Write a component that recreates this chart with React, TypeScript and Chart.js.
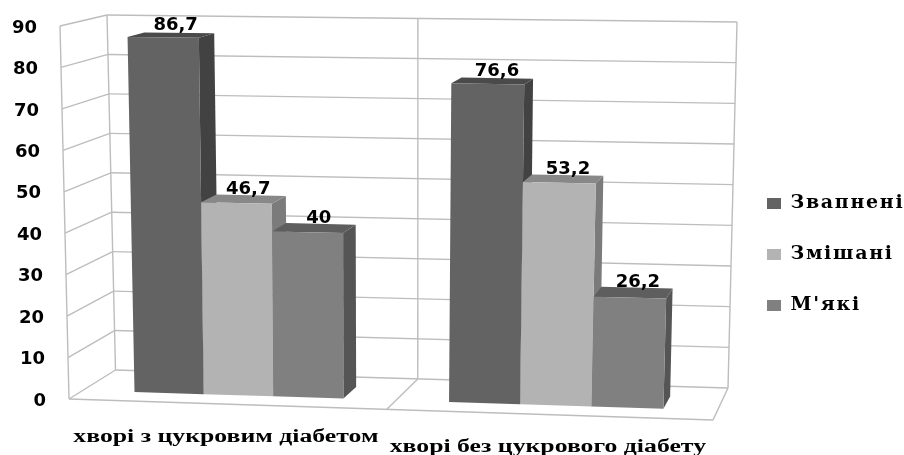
import React, { useEffect, useRef } from "react";
import { Chart, registerables } from "chart.js";

Chart.register(...registerables);

// Chart values
const categories = ["хворі з цукровим діабетом", "хворі без цукрового діабету"];
const seriesNames = ["Звапнені", "Змішані", "М'які"];
const calcified = [86.7, 76.6];
const mixed = [46.7, 53.2];
const soft = [40, 26.2];

// Face shades of each series
const frontColors = ["#636363", "#b3b3b3", "#808080"];
const sideColors = ["#424242", "#7b7b7b", "#555555"];
const topColors = ["#4a4a4a", "#888888", "#5e5e5e"];

type Pt = [number, number];

// Corners of the 3D box on the page: near plane, then far plane
const NEAR = { tl: [60, 26] as Pt, tr: [725, 35] as Pt, bl: [69, 399] as Pt, br: [713, 420] as Pt };
const FAR = { tl: [107, 15] as Pt, tr: [737, 22] as Pt, bl: [115.5, 370] as Pt, br: [728, 388] as Pt };
const BAR_NEAR_DEPTH = 0.3;
const BAR_FAR_DEPTH = 0.68;
const PERSPECTIVE_BOW = 0.026;
const GRID_COLOR = "#bdbdbd";
const SANS_BOLD = '"DejaVu Sans"';
const SERIF_BOLD = '"Liberation Serif"';
const LEGEND_FONT = '"DejaVu Serif"';

const lerp = (a: number, b: number, t: number) => a + (b - a) * t;
const lerpPt = (a: Pt, b: Pt, t: number): Pt => [lerp(a[0], b[0], t), lerp(a[1], b[1], t)];

// Maps axis fractions (u across, v up, z into the page) onto the canvas
function project(u: number, v: number, z: number): Pt {
  const w = u - PERSPECTIVE_BOW * u * (1 - u);
  const plane = (c: typeof NEAR) =>
    lerpPt(lerpPt(c.bl, c.br, w), lerpPt(c.tl, c.tr, w), v);
  return lerpPt(plane(NEAR), plane(FAR), z);
}

function polygon(ctx: CanvasRenderingContext2D, pts: Pt[], fill: string) {
  ctx.beginPath();
  pts.forEach((p, i) => (i ? ctx.lineTo(p[0], p[1]) : ctx.moveTo(p[0], p[1])));
  ctx.closePath();
  ctx.fillStyle = fill;
  ctx.fill();
}

const fractions = (chart: any) => {
  const { left, right, top, bottom } = chart.chartArea;
  return {
    u: (px: number) => (px - left) / (right - left),
    v: (py: number) => (bottom - py) / (bottom - top),
  };
};

const box3d = {
  id: "box3d",
  afterLayout(chart: any) {
    // Legend column sits right of the box, below the vertical centre
    const legend = chart.legend;
    legend.left = 767 - legend.options.labels.padding;
    legend.top = 194 - legend.options.labels.padding;
    legend.bottom = 455;
  },
  beforeDraw(chart: any) {
    chart.ctx.letterSpacing = "1.7px";
  },
  beforeDatasetsDraw(chart: any) {
    const ctx = chart.ctx as CanvasRenderingContext2D;
    (ctx as any).letterSpacing = "0px";
    const { u, v } = fractions(chart);
    const yScale = chart.scales.y;
    const xScale = chart.scales.x;

    ctx.save();
    ctx.strokeStyle = GRID_COLOR;
    ctx.lineWidth = 1.4;
    const seg = (a: Pt, b: Pt) => {
      ctx.beginPath();
      ctx.moveTo(a[0], a[1]);
      ctx.lineTo(b[0], b[1]);
      ctx.stroke();
    };
    yScale.ticks.forEach((t: any) => {
      const f = v(yScale.getPixelForValue(t.value));
      seg(project(0, f, 0), project(0, f, 1));
      seg(project(0, f, 1), project(1, f, 1));
    });
    const mid = u((xScale.getPixelForValue(0) + xScale.getPixelForValue(1)) / 2);
    seg(project(0, 0, 0), project(0, 1, 0));
    seg(project(0, 0, 1), project(0, 1, 1));
    seg(project(1, 0, 1), project(1, 1, 1));
    seg(project(mid, 0, 1), project(mid, 1, 1));
    seg(project(0, 0, 0), project(1, 0, 0));
    seg(project(1, 0, 0), project(1, 0, 1));
    seg(project(mid, 0, 0), project(mid, 0, 1));

    // Value axis labels follow the leaning near edge
    ctx.fillStyle = "#000";
    ctx.font = `bold 18px ${SANS_BOLD}`;
    ctx.textAlign = "right";
    ctx.textBaseline = "middle";
    yScale.ticks.forEach((t: any) => {
      const p = project(0, v(yScale.getPixelForValue(t.value)), 0);
      ctx.fillText(String(t.value), p[0] - 23, p[1] + 2);
    });

    // Category labels under the floor
    ctx.font = `bold 18px ${SERIF_BOLD}`;
    ctx.textAlign = "center";
    categories.forEach((_, i) => {
      const p = project(u(xScale.getPixelForValue(i)), 0, 0);
      ctx.save();
      ctx.translate(p[0] - 1, p[1] + 33);
      ctx.scale(1.43, 1);
      ctx.fillText(xScale.getLabelForValue(i), 0, 0);
      ctx.restore();
    });
    ctx.restore();

    // Bars are painted left to right so each front covers its neighbour's side
    chart.data.datasets.forEach((_: any, i: number) => {
      chart.getDatasetMeta(i).data.forEach((el: any) => {
        const { x, y, base, width } = el.getProps(["x", "y", "base", "width"], true);
        const u0 = u(x - width / 2);
        const u1 = u(x + width / 2);
        const v0 = v(base);
        const v1 = v(y);
        const n = BAR_NEAR_DEPTH;
        const f = BAR_FAR_DEPTH;
        polygon(ctx, [project(u1, v0, n), project(u1, v1, n), project(u1, v1, f), project(u1, v0, f)], sideColors[i]);
        polygon(ctx, [project(u0, v1, n), project(u1, v1, n), project(u1, v1, f), project(u0, v1, f)], topColors[i]);
        polygon(ctx, [project(u0, v0, n), project(u1, v0, n), project(u1, v1, n), project(u0, v1, n)], frontColors[i]);
      });
    });
  },
  beforeDatasetDraw() {
    // The projected faces above replace the flat rectangles
    return false;
  },
  afterDatasetsDraw(chart: any) {
    const ctx = chart.ctx as CanvasRenderingContext2D;
    const { u, v } = fractions(chart);
    ctx.save();
    ctx.fillStyle = "#000";
    ctx.font = `bold 18px ${SANS_BOLD}`;
    ctx.textAlign = "center";
    ctx.textBaseline = "middle";
    chart.data.datasets.forEach((ds: any, i: number) => {
      chart.getDatasetMeta(i).data.forEach((el: any, j: number) => {
        const { x, y } = el.getProps(["x", "y"], true);
        const p = project(u(x), v(y), (BAR_NEAR_DEPTH + BAR_FAR_DEPTH) / 2);
        ctx.fillText(String(ds.data[j]).replace(".", ","), p[0] + 4.5, p[1] - 10);
      });
    });
    ctx.restore();
  },
};

export default function App() {
  const ref = useRef<HTMLCanvasElement>(null);
  useEffect(() => {
    const chart = new Chart(ref.current!, {
      type: "bar",
      data: {
        labels: categories,
        datasets: [calcified, mixed, soft].map((data, i) => ({
          label: seriesNames[i],
          data,
          backgroundColor: frontColors[i],
          borderWidth: 0,
          categoryPercentage: 0.667,
          barPercentage: 1,
        })),
      },
      options: {
        responsive: false,
        animation: false,
        events: [],
        scales: {
          x: { display: false },
          y: { display: false, min: 0, max: 90, ticks: { stepSize: 10 } },
        },
        plugins: {
          tooltip: { enabled: false },
          legend: {
            position: "right",
            align: "start",
            labels: {
              boxWidth: 14,
              boxHeight: 11,
              padding: 32,
              color: "#000",
              font: { family: LEGEND_FONT, size: 19, weight: "bold" },
            },
          },
        },
      },
      plugins: [box3d],
    } as any);
    return () => chart.destroy();
  }, []);
  return (
    <div style={{ position: "fixed", left: 0, top: 0, width: 904, height: 455, background: "#fff" }}>
      <canvas ref={ref} width={904} height={455} style={{ display: "block" }} />
    </div>
  );
}
